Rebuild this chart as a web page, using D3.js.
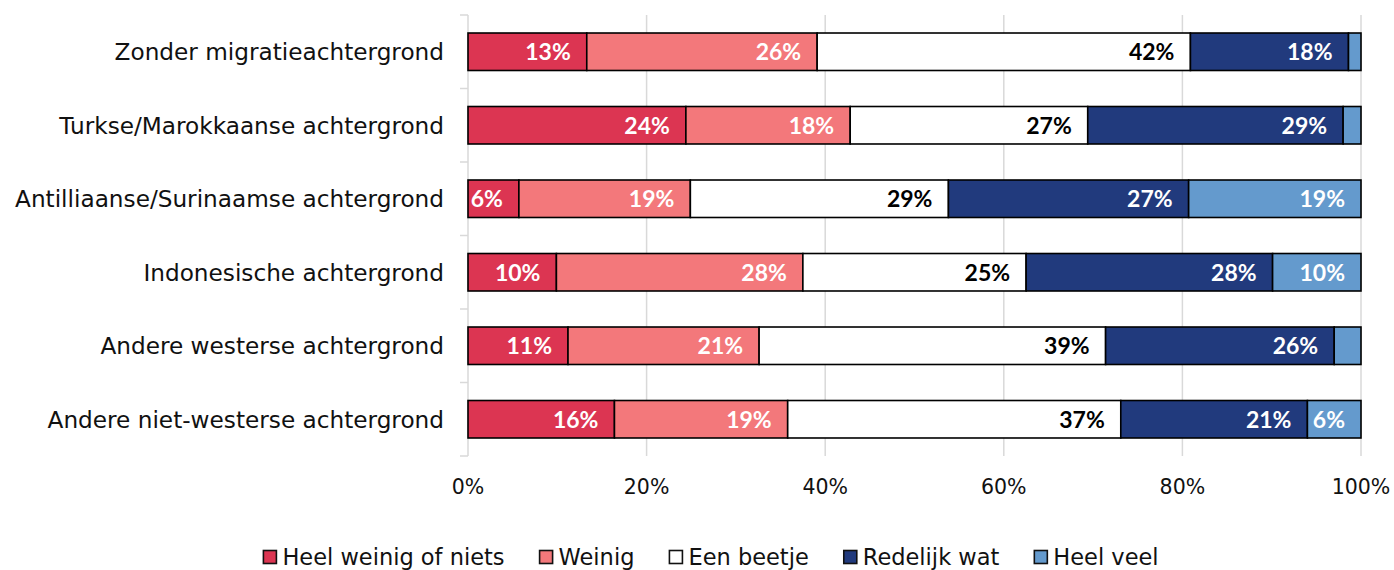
<!DOCTYPE html>
<html>
<head>
<meta charset="utf-8">
<script src="https://cdn.jsdelivr.net/npm/d3@7"></script>
<style>
  html, body { margin: 0; padding: 0; background: #fff; }
  svg { display: block; }
</style>
</head>
<body>
<svg id="chart" width="1394" height="570"></svg>
<script>
// Categories (rows, top to bottom)
const categories = [
  "Zonder migratieachtergrond",
  "Turkse/Marokkaanse achtergrond",
  "Antilliaanse/Surinaamse achtergrond",
  "Indonesische achtergrond",
  "Andere westerse achtergrond",
  "Andere niet-westerse achtergrond"
];

// Answer categories (stack order, left to right)
const seriesNames = ["Heel weinig of niets", "Weinig", "Een beetje", "Redelijk wat", "Heel veel"];

// Shares per row, in percent
const heelWeinig = [13.3, 24.4, 5.7, 9.9, 11.2, 16.4];
const weinig     = [25.8, 18.4, 19.2, 27.6, 21.4, 19.4];
const eenBeetje  = [41.8, 26.6, 28.9, 25.0, 38.8, 37.3];
const redelijk   = [17.7, 28.6, 26.9, 27.6, 25.6, 20.9];
const heelVeel   = [1.4, 2.0, 19.3, 9.9, 3.0, 6.0];

const xTicks = [0, 20, 40, 60, 80, 100];

const seriesValues = [heelWeinig, weinig, eenBeetje, redelijk, heelVeel];
const colors = ["#DC3552", "#F3787B", "#FFFFFF", "#213A7D", "#649ACD"];
const labelColors = ["#FFFFFF", "#FFFFFF", "#000000", "#FFFFFF", "#FFFFFF"];

const rows = categories.map((c, i) => {
  const r = { category: c };
  seriesNames.forEach((s, j) => { r[s] = seriesValues[j][i]; });
  return r;
});
const stacked = d3.stack().keys(seriesNames)(rows);

const svg = d3.select("#chart");
const x = d3.scaleLinear().domain([0, 100]).range([468, 1361]);
const y = d3.scaleBand().domain(categories).range([15, 456])
  .paddingInner(0.49).paddingOuter(0.245);

const textFont = "'DejaVu Sans', sans-serif";
const gridColor = "#D9D9D9";

// vertical gridlines
svg.append("g")
  .selectAll("line")
  .data(xTicks.slice(1))
  .join("line")
  .attr("x1", d => x(d)).attr("x2", d => x(d))
  .attr("y1", 15).attr("y2", 456)
  .attr("stroke", gridColor).attr("stroke-width", 1.5);

// category axis line with boundary ticks
const step = y.step();
const bounds = d3.range(categories.length + 1).map(i => 15 + i * step);
const axisG = svg.append("g");
axisG.append("line")
  .attr("x1", x(0)).attr("x2", x(0)).attr("y1", 15).attr("y2", 456)
  .attr("stroke", gridColor).attr("stroke-width", 1.5);
axisG.selectAll("line.tk")
  .data(bounds)
  .join("line").attr("class", "tk")
  .attr("x1", x(0) - 8).attr("x2", x(0))
  .attr("y1", d => d).attr("y2", d => d)
  .attr("stroke", gridColor).attr("stroke-width", 1.5);

// category labels
svg.append("g")
  .selectAll("text")
  .data(categories)
  .join("text")
  .attr("x", 444)
  .attr("y", d => y(d) + y.bandwidth() / 2)
  .attr("dy", "0.36em")
  .attr("text-anchor", "end")
  .attr("font-family", textFont)
  .attr("font-size", 23.2)
  .attr("fill", "#111")
  .text(d => d);

// stacked segments
const layers = svg.append("g")
  .selectAll("g")
  .data(stacked)
  .join("g")
  .attr("fill", (d, i) => colors[i]);

layers.selectAll("rect")
  .data(d => d)
  .join("rect")
  .attr("x", d => x(d[0]))
  .attr("width", d => x(d[1]) - x(d[0]))
  .attr("y", d => y(d.data.category))
  .attr("height", y.bandwidth())
  .attr("stroke", "#000")
  .attr("stroke-width", 1.6);

// value labels at the inner end of each segment
const labels = svg.append("g");
stacked.forEach((layer, li) => {
  labels.selectAll(null)
    .data(layer.filter(d => d[1] - d[0] >= 5))
    .join("text")
    .attr("x", d => x(d[1]) - 16)
    .attr("y", d => y(d.data.category) + y.bandwidth() / 2)
    .attr("dy", "0.36em")
    .attr("text-anchor", "end")
    .attr("font-family", "Lato, sans-serif")
    .attr("font-weight", "bold")
    .attr("font-size", 23)
    .attr("fill", labelColors[li])
    .text(d => Math.round(d[1] - d[0]) + "%");
});

// x axis tick labels
svg.append("g")
  .selectAll("text")
  .data(xTicks)
  .join("text")
  .attr("x", d => x(d))
  .attr("y", 494)
  .attr("text-anchor", "middle")
  .attr("font-family", textFont)
  .attr("font-size", 20.5)
  .attr("fill", "#111")
  .text(d => d + "%");

// legend
const legend = svg.append("g");
const items = legend.selectAll("g")
  .data(seriesNames)
  .join("g");
items.append("rect")
  .attr("x", 0).attr("y", -6.5)
  .attr("width", 13).attr("height", 13)
  .attr("fill", (d, i) => colors[i])
  .attr("stroke", "#111").attr("stroke-width", 1.6);
items.append("text")
  .attr("x", 19).attr("dy", "0.36em")
  .attr("font-family", textFont)
  .attr("font-size", 22.5)
  .attr("fill", "#111")
  .text(d => d);

let cursor = 0;
const widths = [];
items.each(function () {
  const w = 19 + d3.select(this).select("text").node().getComputedTextLength();
  widths.push(w);
});
const gap = 35;
const total = d3.sum(widths) + gap * (widths.length - 1);
const startX = 711 - total / 2;
items.attr("transform", (d, i) => {
  const tx = startX + cursor;
  cursor += widths[i] + gap;
  return `translate(${tx},557)`;
});
</script>
</body>
</html>
